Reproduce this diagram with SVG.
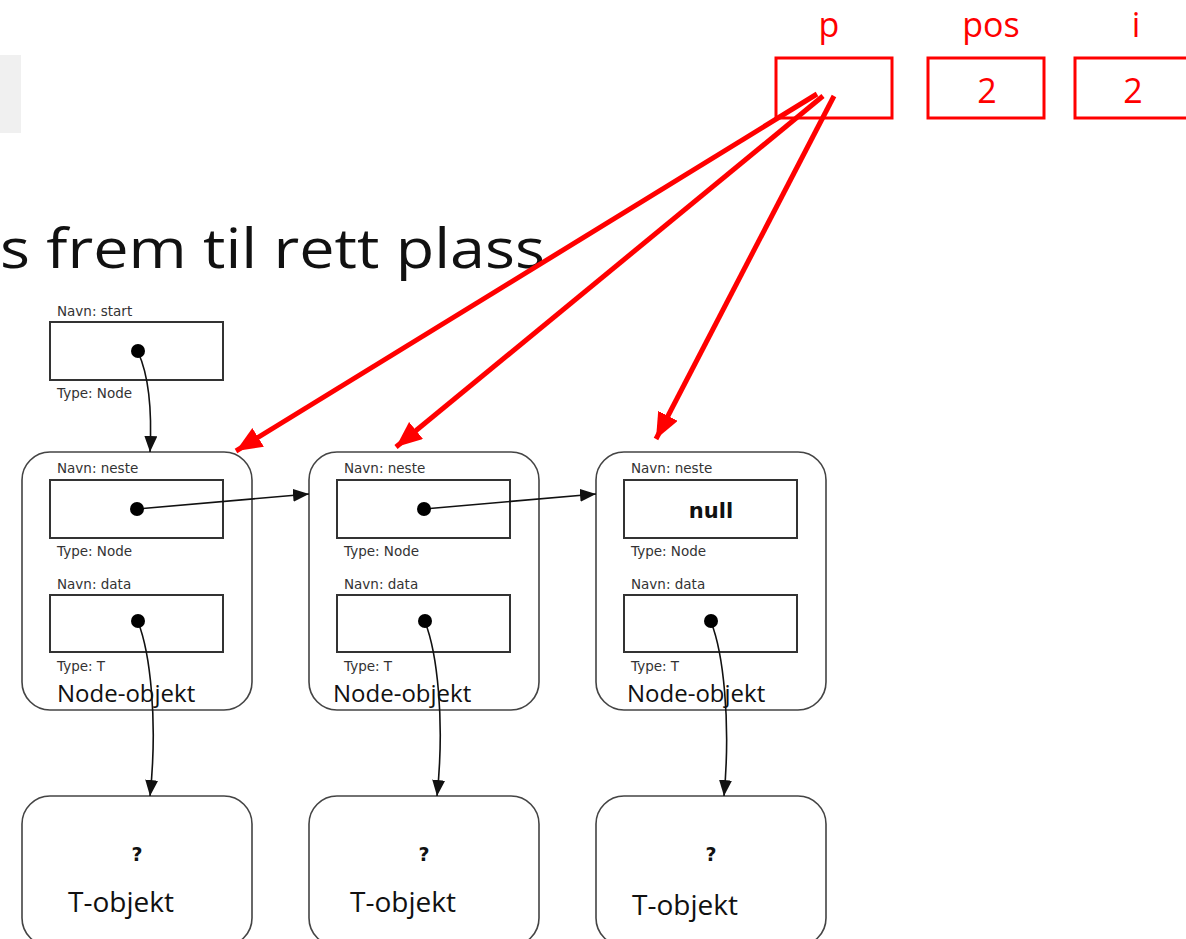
<svg xmlns="http://www.w3.org/2000/svg" width="1186" height="939" viewBox="0 0 1186 939">
<defs>
<marker id="ra" markerUnits="userSpaceOnUse" markerWidth="30" markerHeight="24" refX="26" refY="11" orient="auto">
<path d="M0,0 L26,11 L0,22 Z" fill="#ff0000"/>
</marker>
<marker id="ba" markerUnits="userSpaceOnUse" markerWidth="18" markerHeight="14" refX="16" refY="6.5" orient="auto">
<path d="M0,0 L16,6.5 L0,13 Z" fill="#111"/>
</marker>
<style>
.node{fill:#fff;stroke:#444;stroke-width:1.6}
.box{fill:#fff;stroke:#333;stroke-width:2}
.lbl{font-family:"DejaVu Sans",sans-serif;font-size:13.5px;fill:#333}
.big{font-family:"Open Sans","Liberation Sans",sans-serif;fill:#111}
.red{font-family:"Open Sans","Liberation Sans",sans-serif;fill:#ff0000;font-size:34px;text-anchor:middle}
.rbox{fill:#fff;stroke:#ff0000;stroke-width:3}
.dot{fill:#000}
.conn{fill:none;stroke:#111;stroke-width:1.6}
.rconn{fill:none;stroke:#ff0000;stroke-width:5}
</style>
</defs>
<rect x="0" y="55" width="21" height="78" fill="#f0f0f0"/>
<text class="big" x="0" y="268" font-size="54" textLength="545" lengthAdjust="spacingAndGlyphs">s frem til rett plass</text>

<g id="vars">
<text class="red" x="829" y="37">p</text>
<rect class="rbox" x="776" y="58" width="116" height="60"/>
<text class="red" x="991" y="37">pos</text>
<rect class="rbox" x="928" y="58" width="116" height="60"/>
<text class="red" x="987" y="103">2</text>
<text class="red" x="1136" y="37">i</text>
<rect class="rbox" x="1075" y="58" width="120" height="60"/>
<text class="red" x="1133" y="103">2</text>
</g>

<g id="start">
<text class="lbl" x="57" y="316">Navn: start</text>
<rect class="box" x="50" y="322" width="173" height="58"/>
<text class="lbl" x="57" y="398">Type: Node</text>
</g>

<g id="node1">
<rect class="node" x="22" y="452" width="230" height="258" rx="28"/>
<text class="lbl" x="57" y="473">Navn: neste</text>
<rect class="box" x="50" y="480" width="173" height="58"/>
<text class="lbl" x="57" y="556">Type: Node</text>
<text class="lbl" x="57" y="589">Navn: data</text>
<rect class="box" x="50" y="595" width="173" height="57"/>
<text class="lbl" x="57" y="671">Type: T</text>
<text class="big" x="57" y="702" font-size="24">Node-objekt</text>
</g>

<g id="node2">
<rect class="node" x="309" y="452" width="230" height="258" rx="28"/>
<text class="lbl" x="344" y="473">Navn: neste</text>
<rect class="box" x="337" y="480" width="173" height="58"/>
<text class="lbl" x="344" y="556">Type: Node</text>
<text class="lbl" x="344" y="589">Navn: data</text>
<rect class="box" x="337" y="595" width="173" height="57"/>
<text class="lbl" x="344" y="671">Type: T</text>
<text class="big" x="333" y="702" font-size="24">Node-objekt</text>
</g>

<g id="node3">
<rect class="node" x="596" y="452" width="230" height="258" rx="28"/>
<text class="lbl" x="631" y="473">Navn: neste</text>
<rect class="box" x="624" y="480" width="173" height="58"/>
<text x="711" y="518" font-family="DejaVu Sans,sans-serif" font-weight="bold" font-size="21" fill="#111" text-anchor="middle">null</text>
<text class="lbl" x="631" y="556">Type: Node</text>
<text class="lbl" x="631" y="589">Navn: data</text>
<rect class="box" x="624" y="595" width="173" height="57"/>
<text class="lbl" x="631" y="671">Type: T</text>
<text class="big" x="627" y="702" font-size="24">Node-objekt</text>
</g>

<g id="tobj1">
<rect class="node" x="22" y="796" width="230" height="150" rx="28"/>
<text x="137" y="861" font-family="DejaVu Sans,sans-serif" font-weight="bold" font-size="19" fill="#111" text-anchor="middle">?</text>
<text class="big" x="68" y="912" font-size="28">T-objekt</text>
</g>
<g id="tobj2">
<rect class="node" x="309" y="796" width="230" height="150" rx="28"/>
<text x="424" y="861" font-family="DejaVu Sans,sans-serif" font-weight="bold" font-size="19" fill="#111" text-anchor="middle">?</text>
<text class="big" x="350" y="912" font-size="28">T-objekt</text>
</g>
<g id="tobj3">
<rect class="node" x="596" y="796" width="230" height="150" rx="28"/>
<text x="711" y="861" font-family="DejaVu Sans,sans-serif" font-weight="bold" font-size="19" fill="#111" text-anchor="middle">?</text>
<text class="big" x="632" y="915" font-size="28">T-objekt</text>
</g>

<g id="connectors">
<path class="conn" d="M138,352 C150,378 152,412 150,452" marker-end="url(#ba)"/>
<path class="conn" d="M137,509 L309,494" marker-end="url(#ba)"/>
<path class="conn" d="M424,509 L596,494" marker-end="url(#ba)"/>
<path class="conn" d="M138,622 C150,652 158,720 150,796" marker-end="url(#ba)"/>
<path class="conn" d="M425,622 C437,652 445,720 437,796" marker-end="url(#ba)"/>
<path class="conn" d="M711,622 C723,652 731,720 724,796" marker-end="url(#ba)"/>
<circle class="dot" cx="138" cy="351" r="7"/>
<circle class="dot" cx="137" cy="509" r="7"/>
<circle class="dot" cx="138" cy="621" r="7"/>
<circle class="dot" cx="424" cy="509" r="7"/>
<circle class="dot" cx="425" cy="621" r="7"/>
<circle class="dot" cx="711" cy="621" r="7"/>
<line class="rconn" x1="817" y1="94" x2="236" y2="451" marker-end="url(#ra)"/>
<line class="rconn" x1="823" y1="96" x2="396" y2="447" marker-end="url(#ra)"/>
<line class="rconn" x1="834" y1="96" x2="656" y2="439" marker-end="url(#ra)"/>
</g>
</svg>
